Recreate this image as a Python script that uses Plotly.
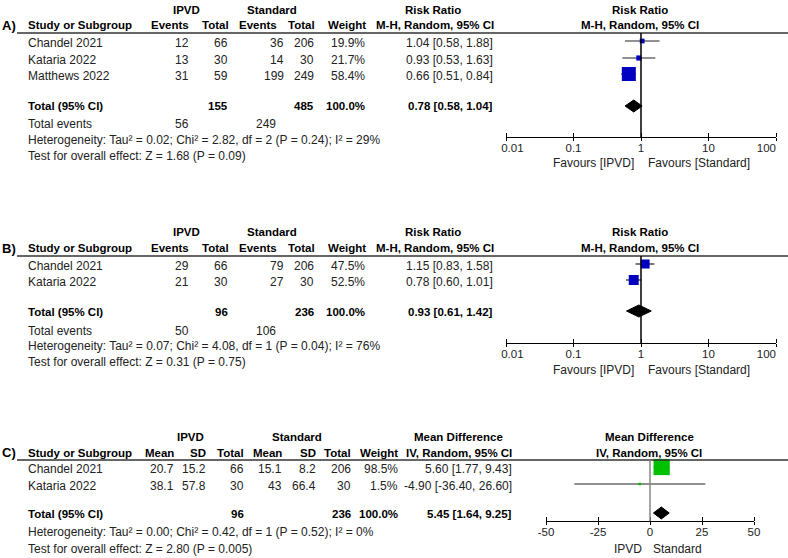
import plotly.graph_objects as go

W, H = 788, 558

# ---------------- Data ----------------
# Panel A: Risk Ratio
studies_A = ["Chandel 2021", "Kataria 2022", "Matthews 2022"]
ipvd_events_A = [12, 13, 31]
ipvd_total_A = [66, 30, 59]
std_events_A = [36, 14, 199]
std_total_A = [206, 30, 249]
weight_A = [19.9, 21.7, 58.4]
rr_A = [1.04, 0.93, 0.66]
rr_lo_A = [0.58, 0.53, 0.51]
rr_hi_A = [1.88, 1.63, 0.84]
pooled_A = [0.78, 0.58, 1.04]
totals_A = [155, 485]
total_events_A = [56, 249]
het_A = "Heterogeneity: Tau² = 0.02; Chi² = 2.82, df = 2 (P = 0.24); I² = 29%"
test_A = "Test for overall effect: Z = 1.68 (P = 0.09)"

# Panel B: Risk Ratio
studies_B = ["Chandel 2021", "Kataria 2022"]
ipvd_events_B = [29, 21]
ipvd_total_B = [66, 30]
std_events_B = [79, 27]
std_total_B = [206, 30]
weight_B = [47.5, 52.5]
rr_B = [1.15, 0.78]
rr_lo_B = [0.83, 0.60]
rr_hi_B = [1.58, 1.01]
pooled_B = [0.93, 0.61, 1.42]
totals_B = [96, 236]
total_events_B = [50, 106]
het_B = "Heterogeneity: Tau² = 0.07; Chi² = 4.08, df = 1 (P = 0.04); I² = 76%"
test_B = "Test for overall effect: Z = 0.31 (P = 0.75)"

# Panel C: Mean Difference
studies_C = ["Chandel 2021", "Kataria 2022"]
ipvd_mean_C = [20.7, 38.1]
ipvd_sd_C = [15.2, 57.8]
ipvd_total_C = [66, 30]
std_mean_C = [15.1, 43]
std_sd_C = [8.2, 66.4]
std_total_C = [206, 30]
weight_C = [98.5, 1.5]
md_C = [5.60, -4.90]
md_lo_C = [1.77, -36.40]
md_hi_C = [9.43, 26.60]
pooled_C = [5.45, 1.64, 9.25]
totals_C = [96, 236]
het_C = "Heterogeneity: Tau² = 0.00; Chi² = 0.42, df = 1 (P = 0.52); I² = 0%"
test_C = "Test for overall effect: Z = 2.80 (P = 0.005)"

rr_ticks = [0.01, 0.1, 1, 10, 100]
rr_tick_labels = ["\u00a0\u00a0\u00a0\u00a00.01", "0.1", "1", "10", "100\u00a0\u00a0\u00a0\u00a0\u00a0\u00a0"]
md_ticks = [-50, -25, 0, 25, 50]
md_tick_labels = ["-50", "-25", "0", "25", "50"]

# ---------------- Helpers ----------------
FONT = "Liberation Sans, Arial, sans-serif"
TXT = "#222222"


def px(x):
    return x / W


def py(y):
    return 1 - y / H


annotations = []
shapes = []


def add(text, x, y, anchor="left", bold=False, size=None, color=None):
    if size is None:
        size = 11.5 if bold else 12
    if color is None:
        color = "#000000" if bold else TXT
    annotations.append(dict(
        text=("<b>%s</b>" % text) if bold else text,
        x=px(x), y=py(y), xref="paper", yref="paper",
        xanchor=anchor, yanchor="middle", showarrow=False,
        font=dict(family=FONT, size=size, color=color), borderpad=0,
    ))


def hline(y):
    shapes.append(dict(type="line", xref="paper", yref="paper",
                       x0=px(17), x1=1, y0=py(y), y1=py(y),
                       line=dict(color="#333333", width=1.3)))


def fmt_ci(v, lo, hi):
    return "%.2f [%.2f, %.2f]" % (v, lo, hi)


fig = go.Figure()

BLUE = "#0000c0"
GREEN = "#00c000"


def forest(ax, rows, est, lo, hi, sizes, color, pooled, prow):
    xa, ya = "x" + ax, "y" + ax
    wx, wy = [], []
    for r, l, h in zip(rows, lo, hi):
        wx += [l, h, None]
        wy += [r, r, None]
    fig.add_trace(go.Scatter(x=wx, y=wy, mode="lines", xaxis=xa, yaxis=ya,
                             line=dict(color="#222222", width=1.2), hoverinfo="skip"))
    fig.add_trace(go.Scatter(x=est, y=rows, mode="markers", xaxis=xa, yaxis=ya,
                             marker=dict(symbol="square", size=sizes, color=color,
                                         opacity=1, line=dict(width=0))))
    e, l, h = pooled
    fig.add_trace(go.Scatter(x=[l, e, h, e, l], y=[prow, prow - 6, prow, prow + 6, prow],
                             mode="lines", fill="toself", fillcolor="black",
                             line=dict(color="black", width=1), xaxis=xa, yaxis=ya))


# ---------------- Panel A ----------------
yA = dict(h1=10, h2=25, line=33, rows=[43, 60, 76], total=106, ev=124, het=140, test=156, axis=137, fav=163)
add("IPVD", 186, yA["h1"], "center", True)
add("Standard", 272, yA["h1"], "center", True)
add("Risk Ratio", 433, yA["h1"], "center", True)
add("Risk Ratio", 640, yA["h1"], "center", True)
add("A)", 1, yA["h2"], "left", True, 13)
add("Study or Subgroup", 27, yA["h2"], "left", True)
add("Events", 190, yA["h2"], "right", True)
add("Total", 230, yA["h2"], "right", True)
add("Events", 278, yA["h2"], "right", True)
add("Total", 316, yA["h2"], "right", True)
add("Weight", 367, yA["h2"], "right", True)
add("M-H, Random, 95% CI", 495, yA["h2"], "right", True)
add("M-H, Random, 95% CI", 640, yA["h2"], "center", True)
hline(yA["line"])
for i, r in enumerate(yA["rows"]):
    add(studies_A[i], 27, r)
    add(str(ipvd_events_A[i]), 190, r, "right")
    add(str(ipvd_total_A[i]), 229, r, "right")
    add(str(std_events_A[i]), 285, r, "right")
    add(str(std_total_A[i]), 315, r, "right")
    add("%.1f%%" % weight_A[i], 366, r, "right")
    add(fmt_ci(rr_A[i], rr_lo_A[i], rr_hi_A[i]), 494, r, "right")
add("Total (95% CI)", 27, yA["total"], "left", True)
add(str(totals_A[0]), 229, yA["total"], "right", True)
add(str(totals_A[1]), 315, yA["total"], "right", True)
add("%.1f%%" % sum(weight_A), 366, yA["total"], "right", True)
add(fmt_ci(*pooled_A), 494, yA["total"], "right", True)
add("Total events", 27, yA["ev"])
add(str(total_events_A[0]), 190, yA["ev"], "right")
add(str(total_events_A[1]), 277, yA["ev"], "right")
add(het_A, 27, yA["het"])
add(test_A, 27, yA["test"])
add("Favours [IPVD]", 635, yA["fav"], "right")
add("Favours [Standard]", 647, yA["fav"], "left")
forest("2", [r - 2 for r in yA["rows"]], rr_A, rr_lo_A, rr_hi_A,
       [max(4, w * 0.24) for w in weight_A], BLUE, pooled_A, yA["total"])
shapes.append(dict(type="line", xref="x2", yref="y2", x0=1, x1=1,
                   y0=yA["line"], y1=yA["axis"], line=dict(color="black", width=1.5)))

# ---------------- Panel B ----------------
yB = dict(h1=232, h2=248, line=256, rows=[266, 282], total=312, ev=331, het=346, test=362, axis=343, fav=370)
add("IPVD", 186, yB["h1"], "center", True)
add("Standard", 272, yB["h1"], "center", True)
add("Risk Ratio", 433, yB["h1"], "center", True)
add("Risk Ratio", 640, yB["h1"], "center", True)
add("B)", 1, yB["h2"], "left", True, 13)
add("Study or Subgroup", 27, yB["h2"], "left", True)
add("Events", 190, yB["h2"], "right", True)
add("Total", 230, yB["h2"], "right", True)
add("Events", 278, yB["h2"], "right", True)
add("Total", 316, yB["h2"], "right", True)
add("Weight", 367, yB["h2"], "right", True)
add("M-H, Random, 95% CI", 495, yB["h2"], "right", True)
add("M-H, Random, 95% CI", 640, yB["h2"], "center", True)
hline(yB["line"])
for i, r in enumerate(yB["rows"]):
    add(studies_B[i], 27, r)
    add(str(ipvd_events_B[i]), 190, r, "right")
    add(str(ipvd_total_B[i]), 229, r, "right")
    add(str(std_events_B[i]), 285, r, "right")
    add(str(std_total_B[i]), 315, r, "right")
    add("%.1f%%" % weight_B[i], 366, r, "right")
    add(fmt_ci(rr_B[i], rr_lo_B[i], rr_hi_B[i]), 494, r, "right")
add("Total (95% CI)", 27, yB["total"], "left", True)
add(str(totals_B[0]), 229, yB["total"], "right", True)
add(str(totals_B[1]), 315, yB["total"], "right", True)
add("%.1f%%" % sum(weight_B), 366, yB["total"], "right", True)
add(fmt_ci(*pooled_B), 494, yB["total"], "right", True)
add("Total events", 27, yB["ev"])
add(str(total_events_B[0]), 190, yB["ev"], "right")
add(str(total_events_B[1]), 277, yB["ev"], "right")
add(het_B, 27, yB["het"])
add(test_B, 27, yB["test"])
add("Favours [IPVD]", 635, yB["fav"], "right")
add("Favours [Standard]", 647, yB["fav"], "left")
forest("3", [r - 2 for r in yB["rows"]], rr_B, rr_lo_B, rr_hi_B,
       [w * 0.19 for w in weight_B], BLUE, pooled_B, yB["total"] - 1)
shapes.append(dict(type="line", xref="x3", yref="y3", x0=1, x1=1,
                   y0=yB["line"], y1=yB["axis"], line=dict(color="black", width=1.5)))

# ---------------- Panel C ----------------
yC = dict(h1=437, h2=453, line=460, rows=[469, 486], total=514, het=532, test=549, axis=521, fav=549)
add("IPVD", 190, yC["h1"], "center", True)
add("Standard", 297, yC["h1"], "center", True)
add("Mean Difference", 458, yC["h1"], "center", True)
add("Mean Difference", 649, yC["h1"], "center", True)
add("C)", 1, yC["h2"], "left", True, 13)
add("Study or Subgroup", 27, yC["h2"], "left", True)
add("Mean", 175, yC["h2"], "right", True)
add("SD", 207, yC["h2"], "right", True)
add("Total", 245, yC["h2"], "right", True)
add("Mean", 283, yC["h2"], "right", True)
add("SD", 317, yC["h2"], "right", True)
add("Total", 352, yC["h2"], "right", True)
add("Weight", 399, yC["h2"], "right", True)
add("IV, Random, 95% CI", 513, yC["h2"], "right", True)
add("IV, Random, 95% CI", 649, yC["h2"], "center", True)
hline(yC["line"])
for i, r in enumerate(yC["rows"]):
    add(studies_C[i], 27, r)
    add(str(ipvd_mean_C[i]), 175, r, "right")
    add(str(ipvd_sd_C[i]), 207, r, "right")
    add(str(ipvd_total_C[i]), 245, r, "right")
    add(str(std_mean_C[i]), 283, r, "right")
    add(str(std_sd_C[i]), 317, r, "right")
    add(str(std_total_C[i]), 352, r, "right")
    add("%.1f%%" % weight_C[i], 399, r, "right")
    add(fmt_ci(md_C[i], md_lo_C[i], md_hi_C[i]), 513, r, "right")
add("Total (95% CI)", 27, yC["total"], "left", True)
add(str(totals_C[0]), 245, yC["total"], "right", True)
add(str(totals_C[1]), 352, yC["total"], "right", True)
add("%.1f%%" % sum(weight_C), 399, yC["total"], "right", True)
add(fmt_ci(*pooled_C), 513, yC["total"], "right", True)
add(het_C, 27, yC["het"])
add(test_C, 27, yC["test"])
add("IPVD", 643, yC["fav"], "right")
add("Standard", 652, yC["fav"], "left")
forest("4", [r - 2 for r in yC["rows"]], md_C, md_lo_C, md_hi_C,
       [max(2.5, w * 0.165) for w in weight_C], GREEN, pooled_C, yC["total"] - 1)
shapes.append(dict(type="line", xref="x4", yref="y4", x0=0, x1=0,
                   y0=yC["line"], y1=yC["axis"], line=dict(color="#888888", width=1.5)))

# ---------------- Axes ----------------
def log_axis(pos_y):
    return dict(type="log", domain=[px(506), px(776)], range=[-2, 2], anchor="free",
                position=py(pos_y), showline=True, linecolor="black", linewidth=1,
                ticks="outside", ticklen=3, tickwidth=1, tickcolor="black",
                tickmode="array", tickvals=rr_ticks, ticktext=rr_tick_labels,
                ticklabeloverflow="allow", ticklabelstandoff=-3,
                tickfont=dict(family=FONT, size=11.5, color=TXT),
                minor=dict(ticks="inside", tickmode="array", tickvals=rr_ticks,
                           ticklen=4, tickcolor="black", showgrid=False),
                showgrid=False, zeroline=False, fixedrange=True)


def pix_y(anchor):
    return dict(domain=[0, 1], range=[H, 0], visible=False, anchor=anchor, fixedrange=True)


fig.update_layout(
    width=W, height=H,
    margin=dict(l=0, r=0, t=0, b=0, autoexpand=False),
    paper_bgcolor="white", plot_bgcolor="rgba(0,0,0,0)",
    showlegend=False, hovermode=False,
    font=dict(family=FONT, size=12, color=TXT),
    xaxis=dict(visible=False, domain=[0, 1], range=[0, W]),
    yaxis=dict(visible=False, domain=[0, 1], range=[H, 0]),
    xaxis2=log_axis(yA["axis"]),
    yaxis2=pix_y("x2"),
    xaxis3=log_axis(yB["axis"]),
    yaxis3=pix_y("x3"),
    xaxis4=dict(domain=[px(546), px(754)], range=[-50, 50], anchor="free",
                position=py(yC["axis"]), showline=True, linecolor="black", linewidth=1,
                ticks="outside", ticklen=3, tickwidth=1, tickcolor="black",
                tickmode="array", tickvals=md_ticks, ticktext=md_tick_labels,
                ticklabeloverflow="allow", ticklabelstandoff=-3,
                tickfont=dict(family=FONT, size=11.5, color=TXT),
                minor=dict(ticks="inside", tickmode="array", tickvals=md_ticks,
                           ticklen=4, tickcolor="black", showgrid=False),
                showgrid=False, zeroline=False, fixedrange=True),
    yaxis4=pix_y("x4"),
    annotations=annotations,
    shapes=shapes,
)

fig.write_html("out.html", config={"displayModeBar": False, "staticPlot": True},
               post_script="document.body.style.margin='0px';")
